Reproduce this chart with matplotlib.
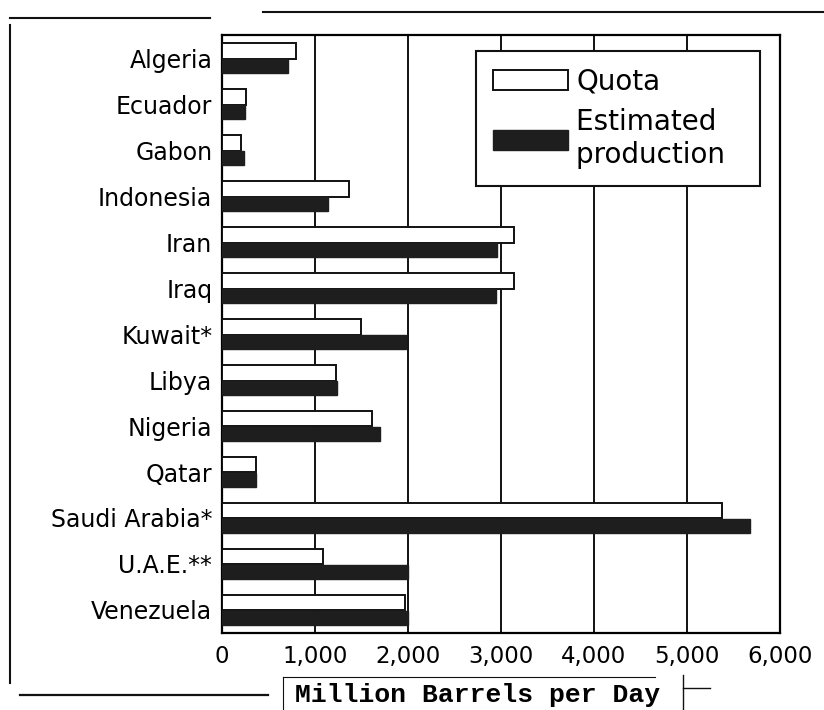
import numpy as np
import matplotlib.pyplot as plt
from matplotlib.lines import Line2D

countries = ["Algeria", "Ecuador", "Gabon", "Indonesia", "Iran", "Iraq",
             "Kuwait*", "Libya", "Nigeria", "Qatar", "Saudi Arabia*",
             "U.A.E.**", "Venezuela"]
quota = [800, 260, 200, 1370, 3140, 3140, 1500, 1230, 1610, 370, 5380, 1090, 1970]
production = [710, 250, 240, 1140, 2960, 2950, 1980, 1240, 1700, 370, 5680, 2000, 2000]
xticks = [0, 1000, 2000, 3000, 4000, 5000, 6000]
xticklabels = ["0", "1,000", "2,000", "3,000", "4,000", "5,000", "6,000"]

plt.rcParams["font.family"] = ["DejaVu Sans"]

fig = plt.figure(figsize=(8.24, 7.10), dpi=100)
ax = fig.add_axes([0.2694, 0.1085, 0.677, 0.842])

y = np.arange(len(countries))
ax.barh(y - 0.16, quota, height=0.34, color="white", edgecolor="#111111",
        linewidth=1.4, label="Quota", zorder=3)
ax.barh(y + 0.17, production, height=0.3, color="#1e1e1e", edgecolor="#1e1e1e",
        linewidth=1.0, label="Estimated  \nproduction  ", zorder=3)

ax.set_xlim(0, 6000)
ax.set_ylim(len(countries) - 0.5, -0.5)
ax.set_yticks(y)
ax.set_yticklabels(countries, fontsize=17)
ax.set_xticks(xticks)
ax.set_xticklabels(xticklabels, fontsize=16.5)
ax.tick_params(length=0)
ax.tick_params(axis="x", pad=9)
ax.tick_params(axis="y", pad=7)
ax.grid(axis="x", color="#111111", linewidth=1.4, zorder=1)
for s in ax.spines.values():
    s.set_linewidth(1.6)

leg = ax.legend(loc="upper right", bbox_to_anchor=(0.964, 0.973), fontsize=20,
                frameon=True, fancybox=False, edgecolor="#111111",
                handlelength=2.7, handleheight=0.75, handletextpad=0.3,
                borderpad=0.6, labelspacing=0.45, borderaxespad=0)
leg.get_frame().set_linewidth(1.5)
leg.get_frame().set_alpha(1)

# scanned page frame and label box
lines = [
    ([0.012, 0.255], [0.9746, 0.9746], 1.5),
    ([0.319, 1.0], [0.983, 0.983], 1.5),
    ([0.012, 0.012], [0.965, 0.038], 1.5),
    ([0.024, 0.325], [0.021, 0.021], 1.6),
    ([0.343, 0.343], [0.047, 0.0], 0.8),
    ([0.343, 0.795], [0.047, 0.047], 0.8),
    ([0.829, 0.829], [0.049, 0.0], 1.0),
    ([0.829, 0.862], [0.031, 0.031], 1.0),
]
for xs, ys, lw in lines:
    fig.add_artist(Line2D(xs, ys, color="#111111", lw=lw))
fig.text(0.579, 0.021, "Million Barrels per Day", family="Liberation Mono",
         fontsize=19, fontweight="bold", ha="center", va="center")

fig.savefig("out.png", dpi=100)
